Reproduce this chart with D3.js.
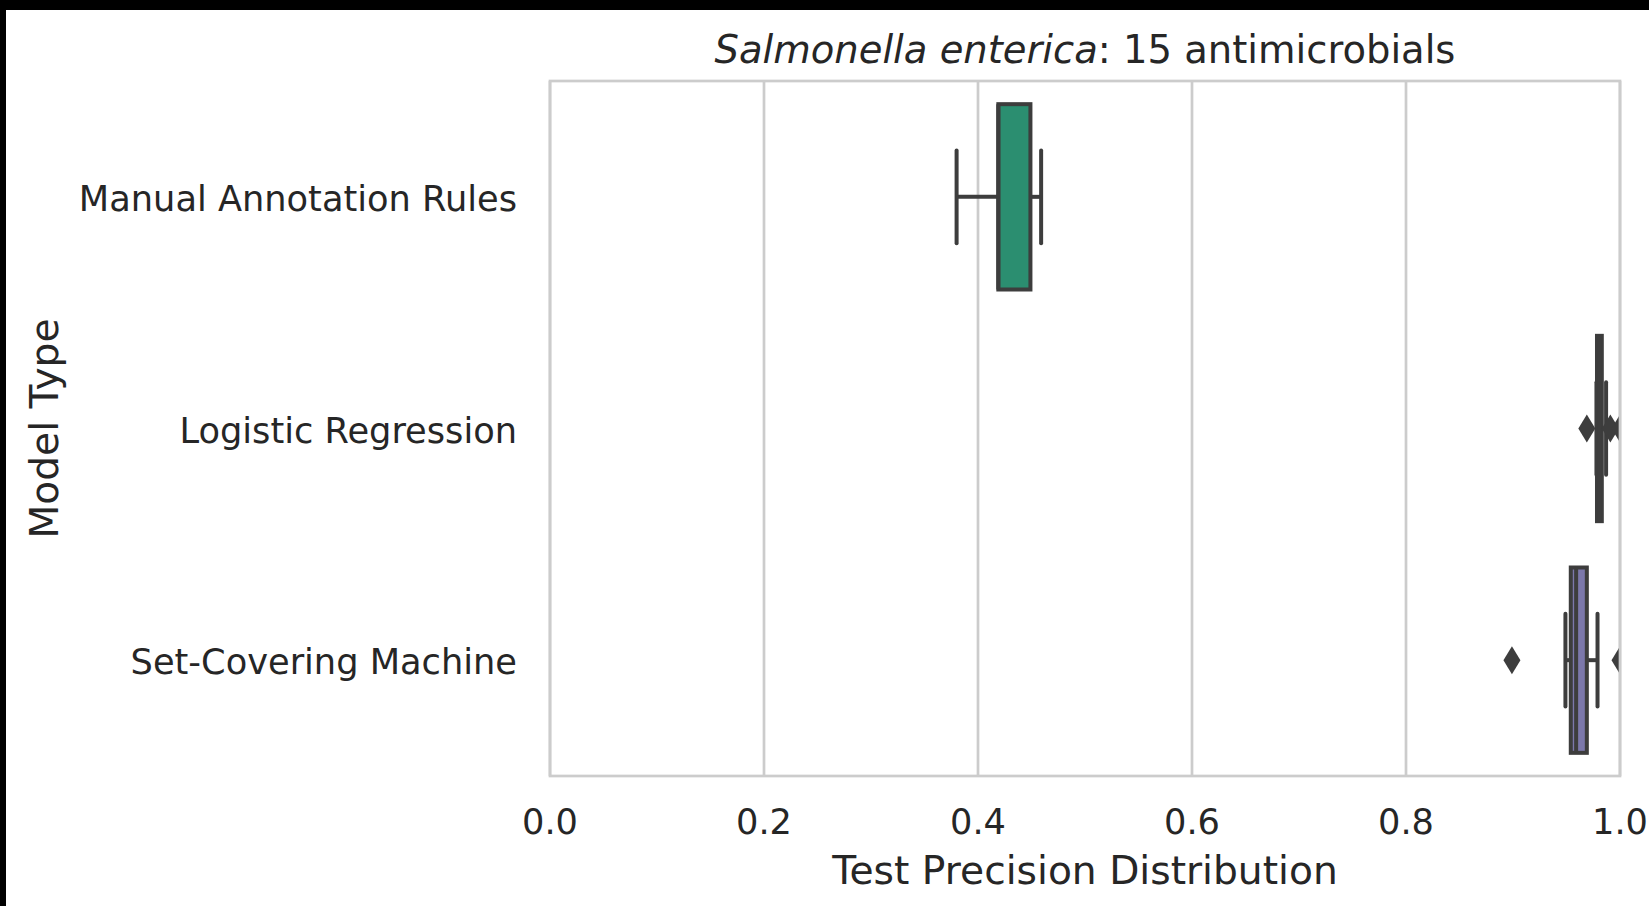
<!DOCTYPE html>
<html>
<head>
<meta charset="utf-8">
<script src="https://cdn.jsdelivr.net/npm/d3@7"></script>
<style>
  body { margin: 0; background: #000; }
  text { font-family: "DejaVu Sans", sans-serif; fill: #262626; }
</style>
</head>
<body>
<script>
// box statistics
const categories = ["Manual Annotation Rules", "Logistic Regression", "Set-Covering Machine"];
const whiskerLow = [0.38, 0.978, 0.949];
const q1 = [0.419, 0.9785, 0.954];
const median = [0.419, 0.981, 0.959];
const q3 = [0.449, 0.983, 0.969];
const whiskerHigh = [0.459, 0.987, 0.979];
const outliers = [[], [0.969, 0.991, 1.0], [0.899, 1.0]];
const boxColors = ["#2b8e70", "#c06a28", "#7c78ab"];
const xTicks = [0.0, 0.2, 0.4, 0.6, 0.8, 1.0];

const w = 1649, h = 906;
const margin = { top: 81, right: 29, bottom: 130, left: 550 };
const innerWidth = w - margin.left - margin.right;
const innerHeight = h - margin.top - margin.bottom;
const lineColor = "#3d3d3d";

const svg = d3.select("body").append("svg")
    .attr("width", w)
    .attr("height", h);

// white page with black strip on top and left
svg.append("rect").attr("width", w).attr("height", h).attr("fill", "#000");
svg.append("rect").attr("x", 6).attr("y", 10).attr("width", w - 6).attr("height", h - 10).attr("fill", "#fff");

const xScale = d3.scaleLinear().domain([0, 1]).range([0, innerWidth]);
const yScale = d3.scaleBand().domain(categories).range([0, innerHeight]);
const boxW = yScale.bandwidth() * 0.8;

const g = svg.append("g").attr("transform", `translate(${margin.left},${margin.top})`);

g.append("clipPath").attr("id", "plotclip")
    .append("rect").attr("width", innerWidth).attr("height", innerHeight);

// grid
g.selectAll(".grid").data(xTicks).enter().append("line")
    .attr("x1", d => xScale(d)).attr("x2", d => xScale(d))
    .attr("y1", 0).attr("y2", innerHeight)
    .attr("stroke", "#cccccc").attr("stroke-width", 2.7);

// x tick labels
g.selectAll(".xt").data(xTicks).enter().append("text")
    .attr("x", d => xScale(d)).attr("y", innerHeight + 58)
    .attr("text-anchor", "middle")
    .style("font-size", "35.2px")
    .text(d => d3.format(".1f")(d));

// y tick labels
g.selectAll(".yt").data(categories).enter().append("text")
    .attr("x", -33).attr("y", d => yScale(d) + yScale.bandwidth() / 2)
    .attr("dy", "0.4em")
    .attr("text-anchor", "end")
    .style("font-size", "35.2px")
    .text(d => d);

const boxes = g.append("g").attr("clip-path", "url(#plotclip)");

categories.forEach((c, i) => {
    const cy = yScale(c) + yScale.bandwidth() / 2;
    const bg = boxes.append("g");
    // whiskers
    bg.append("line").attr("x1", xScale(whiskerLow[i])).attr("x2", xScale(q1[i]))
        .attr("y1", cy).attr("y2", cy).attr("stroke", lineColor).attr("stroke-width", 4);
    bg.append("line").attr("x1", xScale(q3[i])).attr("x2", xScale(whiskerHigh[i]))
        .attr("y1", cy).attr("y2", cy).attr("stroke", lineColor).attr("stroke-width", 4);
    // caps
    [whiskerLow[i], whiskerHigh[i]].forEach(v => {
        bg.append("line").attr("x1", xScale(v)).attr("x2", xScale(v))
            .attr("y1", cy - boxW / 4).attr("y2", cy + boxW / 4)
            .attr("stroke", lineColor).attr("stroke-width", 4).attr("stroke-linecap", "round");
    });
    // box
    bg.append("rect")
        .attr("x", xScale(q1[i])).attr("width", xScale(q3[i]) - xScale(q1[i]))
        .attr("y", cy - boxW / 2).attr("height", boxW)
        .attr("fill", boxColors[i]).attr("stroke", lineColor).attr("stroke-width", 4);
    // median
    bg.append("line").attr("x1", xScale(median[i])).attr("x2", xScale(median[i]))
        .attr("y1", cy - boxW / 2).attr("y2", cy + boxW / 2)
        .attr("stroke", lineColor).attr("stroke-width", 4);
    // outliers as thin diamonds
    bg.selectAll(".fl").data(outliers[i]).enter().append("path")
        .attr("d", "M0,-14L8.5,0L0,14L-8.5,0Z")
        .attr("transform", d => `translate(${xScale(d)},${cy})`)
        .attr("fill", lineColor);
});

// frame
g.append("rect").attr("width", innerWidth).attr("height", innerHeight)
    .attr("fill", "none").attr("stroke", "#cccccc").attr("stroke-width", 2.7);

// title
const title = svg.append("text")
    .attr("x", margin.left + innerWidth / 2).attr("y", 63)
    .attr("text-anchor", "middle")
    .style("font-size", "38.5px");
title.append("tspan").style("font-style", "italic").text("Salmonella enterica");
title.append("tspan").text(": 15 antimicrobials");

// axis labels
svg.append("text")
    .attr("x", margin.left + innerWidth / 2).attr("y", 884)
    .attr("text-anchor", "middle")
    .style("font-size", "39.2px")
    .text("Test Precision Distribution");

svg.append("text")
    .attr("transform", `translate(58,${margin.top + innerHeight / 2}) rotate(-90)`)
    .attr("text-anchor", "middle")
    .style("font-size", "39.2px")
    .text("Model Type");
</script>
</body>
</html>
